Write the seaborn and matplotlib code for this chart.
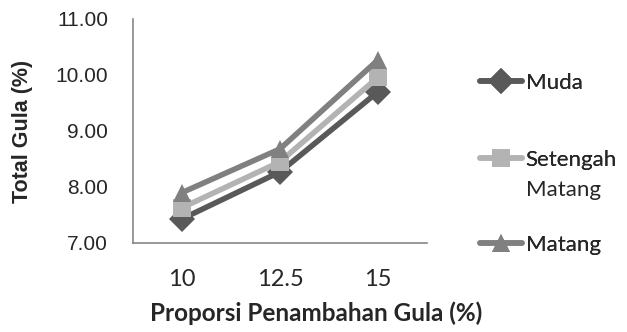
import matplotlib
matplotlib.use("Agg")
import matplotlib.pyplot as plt
import pandas as pd
import seaborn as sns

categories = ["10", "12.5", "15"]
muda = [7.43, 8.27, 9.70]
setengah_matang = [7.63, 8.45, 9.96]
matang = [7.90, 8.68, 10.27]

series_names = ["Muda", "Setengah Matang", "Matang"]
colors = ["#595959", "#b3b3b3", "#808080"]
markers = ["D", "s", "^"]
yticks = [7, 8, 9, 10, 11]

sns.set_style("white")
plt.rcParams["font.family"] = ["Lato", "DejaVu Sans"]

W, H = 627, 332
df = pd.concat(
    [
        pd.DataFrame({"x": range(len(categories)), "y": vals, "series": name})
        for name, vals in zip(series_names, [muda, setengah_matang, matang])
    ],
    ignore_index=True,
)

fig = plt.figure(figsize=(W / 100, H / 100), dpi=100)
ax = fig.add_axes([133 / W, 1 - 243 / H, (427 - 133) / W, (243 - 19) / H])

sns.lineplot(
    data=df, x="x", y="y", hue="series", style="series",
    palette=dict(zip(series_names, colors)),
    markers=dict(zip(series_names, markers)),
    dashes=False, linewidth=4, markersize=13, markeredgewidth=0,
    ax=ax, legend=False,
)

ax.set_xlim(-0.5, len(categories) - 0.5)
ax.set_ylim(7, 11)
ax.set_yticks(yticks)
ax.set_yticklabels([f"{v:.2f}" for v in yticks], fontsize=15, family="Liberation Sans")
ax.set_xticks(range(len(categories)))
ax.set_xticklabels(categories, fontsize=17)
ax.set_xticks([-0.5, 0.5, 1.5, 2.5], minor=True)
ax.tick_params(axis="x", which="major", length=0, pad=19)
ax.tick_params(axis="x", which="minor", length=5, width=1.2, color="#868686", direction="out")
ax.tick_params(axis="y", length=6, width=1.2, color="#868686", direction="out", pad=12)

for side in ["top", "right"]:
    ax.spines[side].set_visible(False)
for side in ["left", "bottom"]:
    ax.spines[side].set_color("#868686")
    ax.spines[side].set_linewidth(1.2)

ax.set_xlabel("Proporsi Penambahan Gula (%)", fontsize=17.5, fontweight="bold")
ax.xaxis.set_label_coords((316 - 133) / 294, -(313 - 243) / 224)
ax.xaxis.label.set_va("center")
ax.set_ylabel("Total Gula (%)", fontsize=15.5, fontweight="bold", family="Liberation Sans")
ax.yaxis.set_label_coords(-(133 - 22) / 294, (243 - 131) / 224)
ax.yaxis.label.set_va("center")

# legend: one entry per series, stacked on the right
fs = 16
fs_px = fs * 100 / 72
handlelength, handletextpad = 1.9, 0.15
leg_x = 480 / W
leg_rows = [83, 160, 245]
lines = ax.get_lines()
for line, name, row in zip(lines, series_names, leg_rows):
    label = name.split(" ")[0]
    leg = fig.legend(
        [line], [label], loc="center left", bbox_to_anchor=(leg_x, 1 - row / H),
        frameon=False, fontsize=fs, handlelength=handlelength,
        handletextpad=handletextpad, borderpad=0, borderaxespad=0,
    )
    fig.add_artist(leg)
    if name == "Setengah Matang":
        text_x = leg_x + (handlelength + handletextpad) * fs_px / W
        fig.text(text_x, 1 - (row + 30) / H, "Matang", fontsize=fs, va="center", ha="left")

fig.savefig("out.png", dpi=100)
